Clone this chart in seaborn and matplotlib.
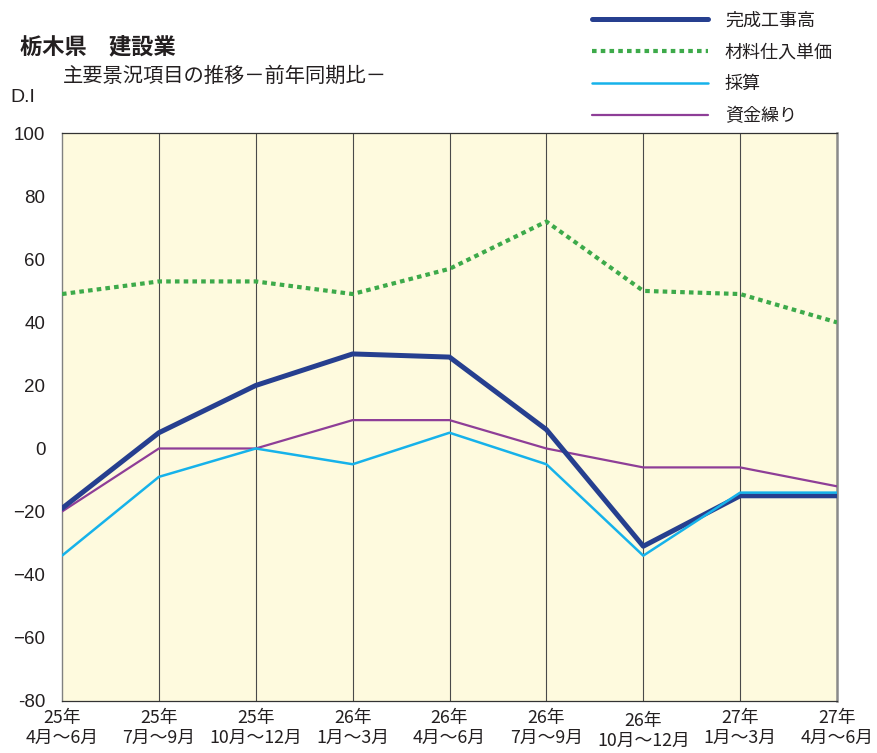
import numpy as np
import pandas as pd
import matplotlib
matplotlib.use("Agg")
import matplotlib.pyplot as plt
import matplotlib.transforms as mtransforms
import seaborn as sns

# 期間ラベル
years = ["25年", "25年", "25年", "26年", "26年", "26年", "26年", "27年", "27年"]
quarters = ["4月～6月", "7月～9月", "10月～12月", "1月～3月", "4月～6月",
            "7月～9月", "10月～12月", "1月～3月", "4月～6月"]

# 各項目 D.I
kansei = [-19, 5, 20, 30, 29, 6, -31, -15, -15]
zairyo = [49, 53, 53, 49, 57, 72, 50, 49, 40]
saisan = [-34, -9, 0, -5, 5, -5, -34, -14, -14]
shikin = [-20, 0, 0, 9, 9, 0, -6, -6, -12]

names = ["完成工事高", "材料仕入単価", "採算", "資金繰り"]
yticks = [100, 80, 60, 40, 20, 0, -20, -40, -60, -80]
ytick_labels = ["100", "80", "60", "40", "20", "0", "−20", "−40", "−60", "-80"]

sns.set_theme(style="white")
plt.rcParams["font.family"] = ["Liberation Sans", "Noto Sans CJK JP", "DejaVu Sans"]
JP = ["Noto Sans CJK JP", "DejaVu Sans"]

df = pd.DataFrame({
    "pos": np.arange(len(quarters)),
    names[0]: kansei, names[1]: zairyo, names[2]: saisan, names[3]: shikin,
})

fig = plt.figure(figsize=(8.77, 7.53), dpi=100)
ax = fig.add_axes([0.0707, 0.0695, 0.8837, 0.7535])
ax.set_facecolor("#FEFADE")

styles = {
    names[0]: dict(color="#263F8F", lw=3.6, z=4, ls="-"),
    names[1]: dict(color="#3DAA4A", lw=3.0, z=6, ls=(0, (1.1, 1.0))),
    names[2]: dict(color="#16B2EA", lw=1.8, z=5, ls="-"),
    names[3]: dict(color="#8E3E97", lw=1.6, z=3, ls="-"),
}
for n in names:
    s = styles[n]
    sns.lineplot(data=df, x="pos", y=n, ax=ax, color=s["color"], linewidth=s["lw"],
                 linestyle=s["ls"], label=n, zorder=s["z"])

# 縦の区切り線
for p in df["pos"][1:-1]:
    ax.axvline(p, color="#4a4a4a", lw=0.8, zorder=1)

ax.set_xlim(0, len(quarters) - 1)
ax.set_ylim(-80, 100)
ax.set_yticks(yticks)
ax.set_yticklabels(ytick_labels, fontsize=13.5, color="#231f20")
ax.set_xticks(df["pos"])
ax.set_xticklabels([f"{y}\n{q}" for y, q in zip(years, quarters)],
                   fontsize=12.8, family=JP, color="#231f20", linespacing=1.15)
ax.tick_params(axis="y", length=0, pad=12)
ax.tick_params(axis="x", length=0, pad=6)
ax.set_xlabel("")
ax.set_ylabel("")

# 10月～12月(26年)だけ少し下
lbl = ax.get_xticklabels()[6]
lbl.set_transform(lbl.get_transform() +
                  mtransforms.ScaledTranslation(0, -3 / 100, fig.dpi_scale_trans))

for side, c, w in [("left", "#808080", 1.0), ("right", "#8a8a8a", 1.8),
                   ("top", "#333333", 0.9), ("bottom", "#333333", 0.9)]:
    ax.spines[side].set_color(c)
    ax.spines[side].set_linewidth(w)
    ax.spines[side].set_visible(True)

leg = ax.legend(loc="upper left", bbox_to_anchor=(585 / 877, 1 - 4 / 753),
                bbox_transform=fig.transFigure, frameon=False,
                prop={"family": JP, "size": 13}, handlelength=6.4,
                handletextpad=0.95, labelspacing=0.78, borderaxespad=0)
for t in leg.get_texts():
    t.set_color("#231f20")

fig.text(20 / 877, 1 - 48 / 753, "栃木県　建設業", family=JP, fontsize=16,
         fontweight="bold", va="center", ha="left", color="#231f20")
fig.text(63 / 877, 1 - 76 / 753, "主要景況項目の推移－前年同期比－", family=JP,
         fontsize=14.6, va="center", ha="left", color="#231f20")
fig.text(10 / 877, 1 - 98 / 753, "D.I", fontsize=14, va="center", ha="left",
         color="#231f20")

fig.savefig("out.png", dpi=100)
